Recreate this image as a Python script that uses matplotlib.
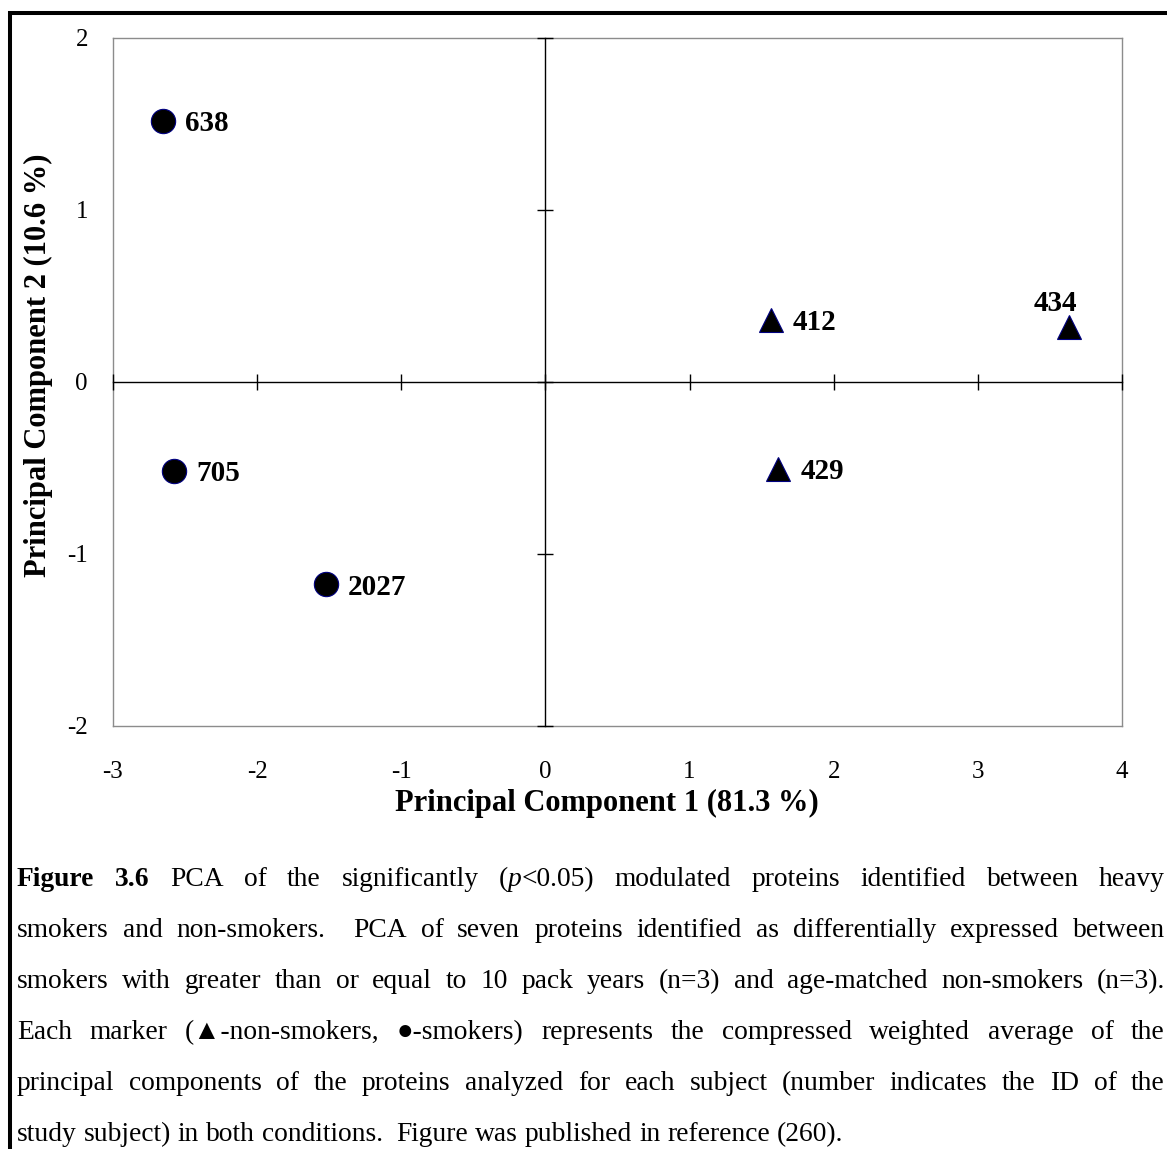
import re
import matplotlib
matplotlib.use("Agg")
import matplotlib.pyplot as plt
from matplotlib.lines import Line2D

# ---------------------------------------------------------------- data
subject_ids = ["638", "705", "2027", "412", "434", "429"]
pc1 = [-2.654, -2.577, -1.525, 1.563, 3.630, 1.616]
pc2 = [1.520, -0.517, -1.176, 0.362, 0.317, -0.504]
groups = ["smoker", "smoker", "smoker", "non-smoker", "non-smoker", "non-smoker"]

x_ticks = [-3, -2, -1, 0, 1, 2, 3, 4]
y_ticks = [-2, -1, 0, 1, 2]
x_label = "Principal Component 1 (81.3 %)"
y_label = "Principal Component 2 (10.6 %)"

caption_lines = [
    "**Figure** **3.6** PCA of the significantly (_p_<0.05) modulated proteins identified between heavy",
    "smokers and non-smokers.  PCA of seven proteins identified as differentially expressed between",
    "smokers with greater than or equal to 10 pack years (n=3) and age-matched non-smokers (n=3).",
    "Each marker (\u25B2-non-smokers, \u25CF-smokers) represents the compressed weighted average of the",
    "principal components of the proteins analyzed for each subject (number indicates the ID of the",
    "study subject) in both conditions.  Figure was published in reference (260).",
]

# ---------------------------------------------------------------- figure
W, H, DPI = 1167, 1149, 100
SERIF = ["Liberation Serif", "DejaVu Serif"]
plt.rcParams["font.family"] = SERIF

fig = plt.figure(figsize=(W / DPI, H / DPI), dpi=DPI)

ax_left, ax_right, ax_top, ax_bottom = 113, 1122, 38, 726
rect = [ax_left / W, 1 - ax_bottom / H, (ax_right - ax_left) / W, (ax_bottom - ax_top) / H]

# outer frame with the tick labels
ax = fig.add_axes(rect)
ax.set_xlim(x_ticks[0], x_ticks[-1])
ax.set_ylim(y_ticks[0], y_ticks[-1])
ax.set_xticks(x_ticks)
ax.set_yticks(y_ticks)
ax.set_xticklabels([str(v) for v in x_ticks])
ax.set_yticklabels([str(v) for v in y_ticks])
for s in ax.spines.values():
    s.set_color("#8c8c8c")
    s.set_linewidth(1.0)
ax.tick_params(axis="both", length=0, labelsize=18, colors="black")
ax.tick_params(axis="x", pad=25)
ax.tick_params(axis="y", pad=18)

# crossing axes through the origin
ax2 = fig.add_axes(rect)
ax2.patch.set_visible(False)
ax2.set_xlim(x_ticks[0], x_ticks[-1])
ax2.set_ylim(y_ticks[0], y_ticks[-1])
ax2.set_xticks(x_ticks)
ax2.set_yticks(y_ticks)
ax2.spines["left"].set_position(("data", 0))
ax2.spines["bottom"].set_position(("data", 0))
ax2.spines["top"].set_visible(False)
ax2.spines["right"].set_visible(False)
for side in ("left", "bottom"):
    ax2.spines[side].set_color("black")
    ax2.spines[side].set_linewidth(1.0)
ax2.tick_params(axis="both", direction="inout", length=11, width=1.0,
                color="black", labelleft=False, labelbottom=False)

# subjects
marker_style = {"smoker": "o", "non-smoker": "^"}
for g in ("smoker", "non-smoker"):
    xs = [x for x, gg in zip(pc1, groups) if gg == g]
    ys = [y for y, gg in zip(pc2, groups) if gg == g]
    ax2.plot(xs, ys, linestyle="none", marker=marker_style[g], markersize=17.5,
             markerfacecolor="black", markeredgecolor="#000080",
             markeredgewidth=0.8, zorder=5, clip_on=False)

for sid, x, y in zip(subject_ids, pc1, pc2):
    if sid == "434":
        ax2.annotate(sid, (x, y), xytext=(-9.5, 12), textcoords="offset points",
                     ha="center", va="baseline", fontsize=21, fontweight="bold")
    else:
        ax2.annotate(sid, (x, y), xytext=(16, -2), textcoords="offset points",
                     ha="left", va="center", fontsize=21, fontweight="bold")

# axis titles
fig.text(607 / W, 1 - 803 / H, x_label, ha="center", va="center",
         fontsize=22, fontweight="bold")
fig.text(38 / W, 1 - 365 / H, y_label, ha="center", va="center",
         rotation=90, fontsize=22, fontweight="bold")

# page rule along the top and left edges
fig.add_artist(Line2D([8 / W, 1.0], [1 - 13 / H, 1 - 13 / H], color="black",
                      linewidth=2.9, solid_capstyle="butt"))
fig.add_artist(Line2D([10 / W, 10 / W], [1 - 11 / H, 0.0], color="black",
                      linewidth=2.9, solid_capstyle="butt"))

# ---------------------------------------------------------------- caption
CAP_FS = 19.8
CAP_LEFT, CAP_RIGHT = 17, 1165
CAP_BASE0, CAP_STEP = 886, 51.0

renderer = fig.canvas.get_renderer()


def parse_runs(word):
    out = []
    for part in re.split(r"(\*\*[^*]+\*\*|_[^_]+_)", word):
        if not part:
            continue
        if part.startswith("**"):
            out.append((part[2:-2], "bold"))
        elif part.startswith("_"):
            out.append((part[1:-1], "italic"))
        else:
            out.append((part, "normal"))
    return out


def make_text(s, style, y):
    return fig.text(0, y, s, fontsize=CAP_FS, ha="left", va="baseline",
                    family=SERIF,
                    fontweight="bold" if style == "bold" else "normal",
                    fontstyle="italic" if style == "italic" else "normal")


def width_of(t):
    return t.get_window_extent(renderer=renderer).width


probe_a = make_text("x x", "normal", 0)
probe_b = make_text("xx", "normal", 0)
SPACE = width_of(probe_a) - width_of(probe_b)
probe_a.remove()
probe_b.remove()

for i, line in enumerate(caption_lines):
    y = 1 - (CAP_BASE0 + i * CAP_STEP) / H
    tokens = re.findall(r"\S+| +", line)
    words, gaps = [], []
    for tok in tokens:
        if tok.startswith(" "):
            gaps.append(len(tok))
        else:
            pieces = [make_text(s, st, y) for s, st in parse_runs(tok)]
            words.append([(t, width_of(t)) for t in pieces])
    total_w = sum(w for word in words for _, w in word)
    n_space = sum(gaps)
    justify = i < len(caption_lines) - 1
    extra = 0.0
    if justify and n_space:
        extra = ((CAP_RIGHT - CAP_LEFT) - total_w - n_space * SPACE) / n_space
    x = CAP_LEFT
    for k, word in enumerate(words):
        for t, w in word:
            t.set_x(x / W)
            x += w
        if k < len(gaps):
            x += gaps[k] * (SPACE + extra)

fig.savefig("out.png", dpi=DPI, facecolor="white")
